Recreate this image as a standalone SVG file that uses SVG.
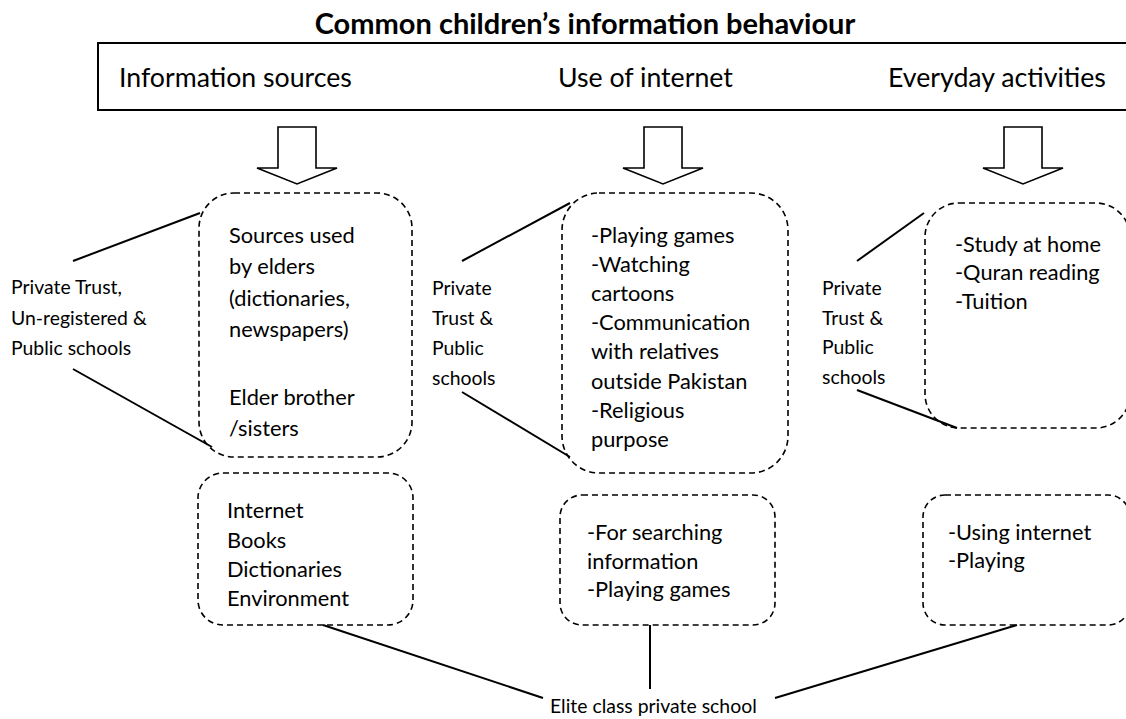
<svg xmlns="http://www.w3.org/2000/svg" width="1126" height="719" viewBox="0 0 1126 719">
  <style>
    text { font-family: Lato, "Open Sans", "Liberation Sans", sans-serif; fill: #000; }
    .title { font-size: 29px; font-weight: bold; }
    .head { font-size: 26.7px; }
    .body { font-size: 21.8px; }
    .label { font-size: 19.4px; }
    .frame { fill: #fff; stroke: #000; stroke-width: 2; }
    .arrow { fill: #fff; stroke: #000; stroke-width: 1.6; stroke-linejoin: miter; }
    .box { fill: none; stroke: #000; stroke-width: 1.6; stroke-dasharray: 6 4; }
    .link { stroke: #000; stroke-width: 2; fill: none; }
  </style>

  <rect width="1126" height="719" fill="#fff"/>

  <!-- title -->
  <g id="title">
    <text class="title" x="585" y="34" text-anchor="middle">Common children’s information behaviour</text>
  </g>

  <!-- header band with the three categories -->
  <g id="header">
    <rect class="frame" x="98" y="43" width="1045" height="67"/>
    <text class="head" x="119" y="87">Information sources</text>
    <text class="head" x="558" y="87">Use of internet</text>
    <text class="head" x="888" y="87">Everyday activities</text>
  </g>

  <!-- block arrows -->
  <g id="arrow-sources">
    <path class="arrow" d="M278,127 H316 V168 H337 L297,184 L257,168 H278 Z"/>
  </g>
  <g id="arrow-internet">
    <path class="arrow" d="M644,127 H682 V168 H703 L663,184 L623,168 H644 Z"/>
  </g>
  <g id="arrow-everyday">
    <path class="arrow" d="M1004,127 H1042 V168 H1063 L1023,184 L983,168 H1004 Z"/>
  </g>

  <!-- connectors -->
  <g id="connectors">
    <line class="link" x1="73" y1="261" x2="200" y2="213"/>
    <line class="link" x1="73" y1="369" x2="212" y2="447"/>
    <line class="link" x1="462" y1="261" x2="570" y2="203"/>
    <line class="link" x1="462" y1="392" x2="570" y2="457"/>
    <line class="link" x1="857" y1="261" x2="924" y2="213"/>
    <line class="link" x1="857" y1="390" x2="957" y2="428"/>
    <line class="link" x1="323" y1="625" x2="543" y2="698"/>
    <line class="link" x1="650" y1="625" x2="650" y2="689"/>
    <line class="link" x1="775" y1="698" x2="1017" y2="625"/>
  </g>

  <!-- school groups -->
  <g id="label-sources">
    <text class="label" x="11" y="294">Private Trust,</text>
    <text class="label" x="11" y="324.5">Un-registered &amp;</text>
    <text class="label" x="11" y="355">Public schools</text>
  </g>
  <g id="label-internet">
    <text class="label" x="432" y="295">Private</text>
    <text class="label" x="432" y="325">Trust &amp;</text>
    <text class="label" x="432" y="355">Public</text>
    <text class="label" x="432" y="385">schools</text>
  </g>
  <g id="label-everyday">
    <text class="label" x="822" y="295">Private</text>
    <text class="label" x="822" y="324.5">Trust &amp;</text>
    <text class="label" x="822" y="354">Public</text>
    <text class="label" x="822" y="384">schools</text>
  </g>
  <g id="label-elite">
    <text class="label" x="550" y="713">Elite class private school</text>
  </g>

  <!-- upper row: private trust / public schools -->
  <g id="box-sources">
    <rect class="box" x="199" y="193" width="213" height="264" rx="35" ry="35"/>
    <text class="body" x="229" y="243">Sources used</text>
    <text class="body" x="229" y="274">by elders</text>
    <text class="body" x="229" y="305.5">(dictionaries,</text>
    <text class="body" x="229" y="337">newspapers)</text>
    <text class="body" x="229" y="405">Elder brother</text>
    <text class="body" x="229" y="436">/sisters</text>
  </g>
  <g id="box-internet">
    <rect class="box" x="562" y="193" width="226" height="280" rx="37" ry="37"/>
    <text class="body" x="591" y="243">-Playing games</text>
    <text class="body" x="591" y="272.1">-Watching</text>
    <text class="body" x="591" y="301.2">cartoons</text>
    <text class="body" x="591" y="330.3">-Communication</text>
    <text class="body" x="591" y="359.4">with relatives</text>
    <text class="body" x="591" y="388.5">outside Pakistan</text>
    <text class="body" x="591" y="417.6">-Religious</text>
    <text class="body" x="591" y="446.7">purpose</text>
  </g>
  <g id="box-everyday">
    <rect class="box" x="925" y="203" width="205" height="225" rx="34" ry="34"/>
    <text class="body" x="955" y="251.7">-Study at home</text>
    <text class="body" x="955" y="280.4">-Quran reading</text>
    <text class="body" x="955" y="309">-Tuition</text>
  </g>

  <!-- lower row: elite class private school -->
  <g id="box-elite-sources">
    <rect class="box" x="198" y="473" width="215" height="152" rx="25" ry="25"/>
    <text class="body" x="227" y="518.3">Internet</text>
    <text class="body" x="227" y="547.5">Books</text>
    <text class="body" x="227" y="576.7">Dictionaries</text>
    <text class="body" x="227" y="606">Environment</text>
  </g>
  <g id="box-elite-internet">
    <rect class="box" x="560" y="495" width="215" height="130" rx="22" ry="22"/>
    <text class="body" x="587" y="540">-For searching</text>
    <text class="body" x="587" y="568.5">information</text>
    <text class="body" x="587" y="597">-Playing games</text>
  </g>
  <g id="box-elite-everyday">
    <rect class="box" x="923" y="495" width="207" height="130" rx="22" ry="22"/>
    <text class="body" x="948" y="539.5">-Using internet</text>
    <text class="body" x="948" y="568.3">-Playing</text>
  </g>
</svg>
